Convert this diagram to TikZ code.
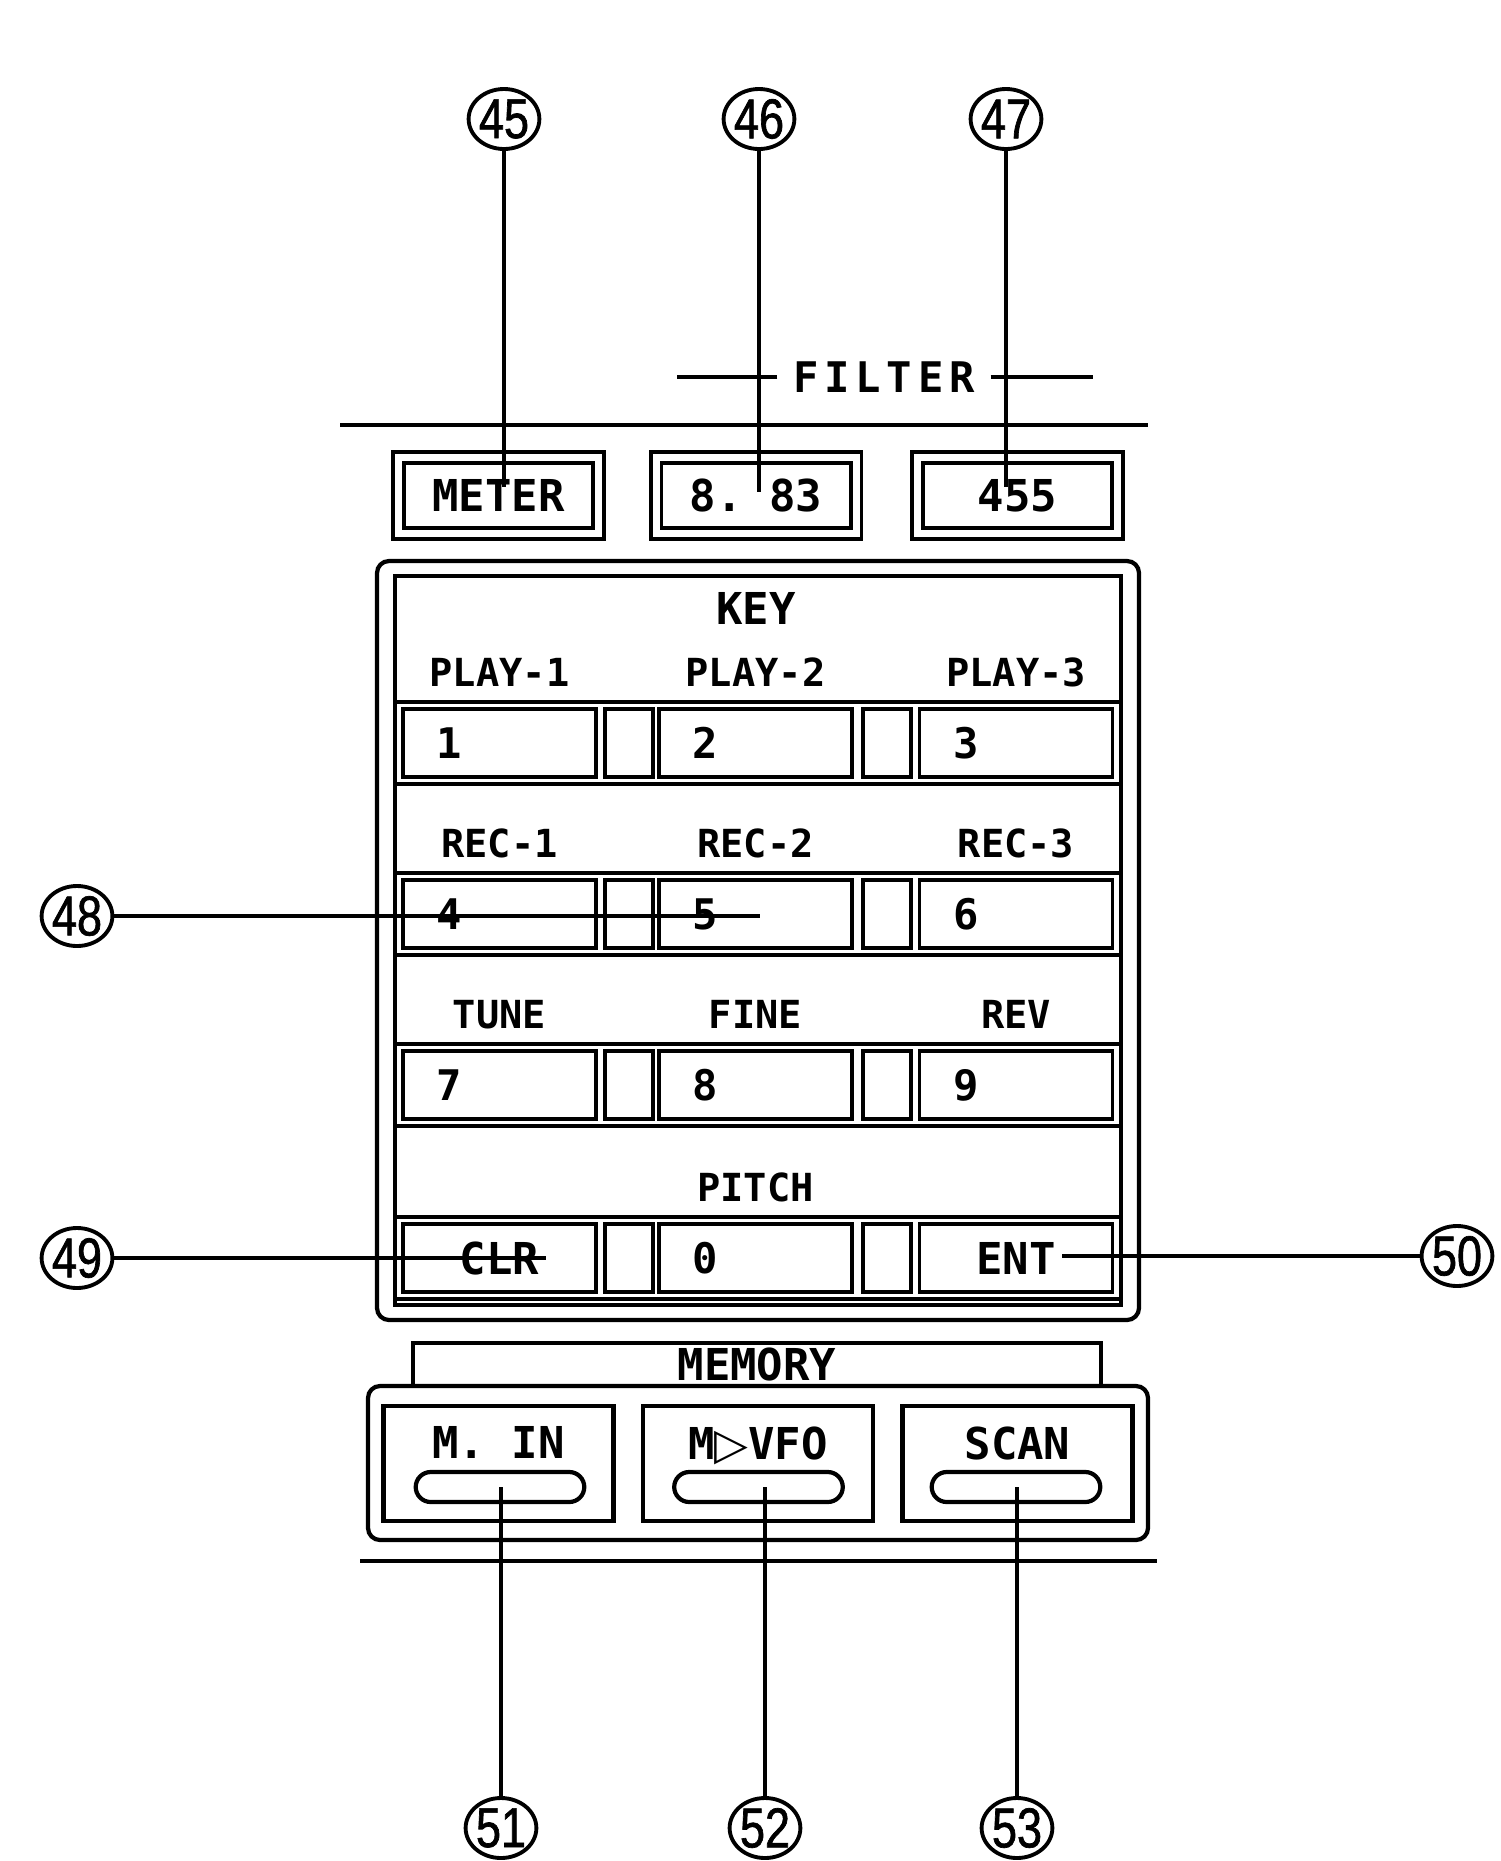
\documentclass[tikz,border=0pt]{standalone}
\usepackage{fontspec}
\setmonofont{DejaVu Sans Mono}
\newfontfamily\callfont[FakeStretch=0.8, FakeBold=1.2]{Liberation Sans}
\newfontfamily\symfont{DejaVu Sans}
\usepackage{tikz}
\usetikzlibrary{shapes.geometric, shapes.misc, positioning}
\tikzstyle{callout} = [ellipse, draw, line width=1.1pt,
minimum width=0.56cm,
minimum height=0.6cm,
inner sep=0pt,
font=\callfont\fontsize{16}{16}\selectfont]
\tikzstyle{dispbox} = [rectangle, draw, double,
double distance=0.07cm,
line width=1.1pt,
minimum width=2cm,
minimum height=0.76cm,
font=\ttfamily\bfseries\fontsize{12.5}{12.5}\selectfont]
\tikzstyle{panel} = [rectangle, draw, rounded corners=0.12cm,
line width=1.2pt,
minimum width=7.62cm,
minimum height=7.59cm]
\tikzstyle{strip} = [rectangle, draw, line width=1pt,
minimum width=7.26cm,
minimum height=0.82cm]
\tikzstyle{keybtn} = [rectangle, draw, line width=1pt,
minimum width=1.93cm,
minimum height=0.68cm]
\tikzstyle{gapbtn} = [rectangle, draw, line width=1pt,
minimum width=0.48cm,
minimum height=0.68cm]
\tikzstyle{keytxt} = [inner sep=0pt, font=\ttfamily\bfseries\fontsize{12}{12}\selectfont]
\tikzstyle{lbl} = [inner sep=0pt, font=\ttfamily\bfseries\fontsize{11}{11}\selectfont]
\tikzstyle{hdr} = [inner sep=0pt, font=\ttfamily\bfseries\fontsize{12.5}{12.5}\selectfont]
\tikzstyle{membox} = [rectangle, draw, rounded corners=0.12cm,
line width=1.2pt,
minimum width=7.8cm,
minimum height=1.54cm]
\tikzstyle{membtn} = [rectangle, draw, line width=1.3pt,
minimum width=2.3cm,
minimum height=1.15cm]
\tikzstyle{pill} = [rounded rectangle, draw, line width=1.2pt,
minimum width=1.92cm,
minimum height=0.3cm]
\tikzstyle{lead} = [line width=1pt]
\tikzstyle{rule} = [line width=1.3pt]

\begin{document}
\begin{tikzpicture}[y=-1cm]
\fill[white] (0,0) rectangle (15,18.61);
\useasboundingbox (0,0) rectangle (15,18.61);

\node (c45) [callout] at (5.04,1.19) {45};
\node (c46) [callout] at (7.59,1.19) {46};
\node (c47) [callout] at (10.06,1.19) {47};
\node (c48) [callout] at (0.77,9.16) {48};
\node (c49) [callout] at (0.77,12.58) {49};
\node (c50) [callout] at (14.57,12.56) {50};
\node (c51) [callout] at (5.01,18.28) {51};
\node (c52) [callout] at (7.65,18.28) {52};
\node (c53) [callout] at (10.17,18.28) {53};

% filter heading and top rule
\node (filter) [hdr, inner sep=0.15cm, font=\ttfamily\bfseries\fontsize{12}{12}\selectfont\addfontfeatures{LetterSpace=14}] at (8.84,3.77) {FILTER};
\draw [lead] (filter.west) -- ++(-1.0,0);
\draw [lead] (filter.east) -- ++(1.02,0);
\draw [rule] (3.40,4.25) -- (11.48,4.25);

\node (meter) [dispbox] at (4.985,4.955) {METER};
\node (freq) [dispbox] at (7.56,4.955) {8. 83};
\node (ifreq) [dispbox] at (10.175,4.955) {455};

% key panel
\node (keyframe) [panel] at (7.58,9.405) {};
\node (keyinner) [rectangle, draw, line width=1pt, minimum width=7.26cm, minimum height=7.29cm] at (7.58,9.405) {};
\node (keytitle) [hdr] at (7.56,6.08) {KEY};

\node (row1) [strip] at (7.58,7.43) {};
\node (k1) [keybtn] at (4.995,7.43) {};
\node (g1) [gapbtn] at (6.29,7.43) {};
\node (k2) [keybtn] at (7.555,7.43) {};
\node (g2) [gapbtn] at (8.87,7.43) {};
\node (k3) [keybtn] at (10.16,7.43) {};
\node (t1) [keytxt, right=0.35cm of k1.west] {1};
\node (t2) [keytxt, right=0.35cm of k2.west] {2};
\node (t3) [keytxt, right=0.35cm of k3.west] {3};
\node (play1) [lbl, above=0.2cm of k1] {PLAY-1};
\node (play2) [lbl, above=0.2cm of k2] {PLAY-2};
\node (play3) [lbl, above=0.2cm of k3] {PLAY-3};

\node (row2) [strip] at (7.58,9.14) {};
\node (k4) [keybtn] at (4.995,9.14) {};
\node (g3) [gapbtn] at (6.29,9.14) {};
\node (k5) [keybtn] at (7.555,9.14) {};
\node (g4) [gapbtn] at (8.87,9.14) {};
\node (k6) [keybtn] at (10.16,9.14) {};
\node (t4) [keytxt, right=0.35cm of k4.west] {4};
\node (t5) [keytxt, right=0.35cm of k5.west] {5};
\node (t6) [keytxt, right=0.35cm of k6.west] {6};
\node (rec1) [lbl, above=0.2cm of k4] {REC-1};
\node (rec2) [lbl, above=0.2cm of k5] {REC-2};
\node (rec3) [lbl, above=0.2cm of k6] {REC-3};

\node (row3) [strip] at (7.58,10.85) {};
\node (k7) [keybtn] at (4.995,10.85) {};
\node (g5) [gapbtn] at (6.29,10.85) {};
\node (k8) [keybtn] at (7.555,10.85) {};
\node (g6) [gapbtn] at (8.87,10.85) {};
\node (k9) [keybtn] at (10.16,10.85) {};
\node (t7) [keytxt, right=0.35cm of k7.west] {7};
\node (t8) [keytxt, right=0.35cm of k8.west] {8};
\node (t9) [keytxt, right=0.35cm of k9.west] {9};
\node (tune) [lbl, above=0.2cm of k7] {TUNE};
\node (fine) [lbl, above=0.2cm of k8] {FINE};
\node (rev) [lbl, above=0.2cm of k9] {REV};

\node (row4) [strip] at (7.58,12.58) {};
\node (kclr) [keybtn, font=\ttfamily\bfseries\fontsize{12.5}{12.5}\selectfont] at (4.995,12.58) {CLR};
\node (g7) [gapbtn] at (6.29,12.58) {};
\node (k0) [keybtn] at (7.555,12.58) {};
\node (g8) [gapbtn] at (8.87,12.58) {};
\node (kent) [keybtn, font=\ttfamily\bfseries\fontsize{12.5}{12.5}\selectfont] at (10.16,12.58) {ENT};
\node (t0) [keytxt, right=0.35cm of k0.west] {0};
\node (pitch) [lbl, above=0.2cm of k0] {PITCH};

% memory block
\node (memtitle) [rectangle, draw, line width=1.2pt, minimum width=6.88cm, minimum height=0.43cm, hdr] at (7.57,13.645) {MEMORY};
\node (memframe) [membox] at (7.58,14.63) {};
\node (min) [membtn] at (4.985,14.635) {};
\node (mvfo) [membtn] at (7.58,14.635) {};
\node (scan) [membtn] at (10.175,14.635) {};
\node (mintxt) [hdr, below=0.22cm of min.north] {M. IN};
\node (mvfotxt) [hdr, below=0.22cm of mvfo.north] {M{\symfont ▷}VFO};
\node (scantxt) [hdr, below=0.22cm of scan.north] {SCAN};
\node (pill1) [pill] at (5.00,14.87) {};
\node (pill2) [pill] at (7.585,14.87) {};
\node (pill3) [pill] at (10.16,14.87) {};
\draw [rule] (3.60,15.61) -- (11.57,15.61);

% leader lines
\coordinate (e45) at (5.04,4.87);
\coordinate (e46) at (7.59,4.92);
\coordinate (e47) at (10.06,4.87);
\coordinate (e48) at (7.60,9.16);
\coordinate (e49) at (5.46,12.58);
\coordinate (e50) at (10.62,12.56);
\draw [lead] (c45) -- (e45);
\draw [lead] (c46) -- (e46);
\draw [lead] (c47) -- (e47);
\draw [lead] (c48) -- (e48);
\draw [lead] (c49) -- (e49);
\draw [lead] (c50) -- (e50);
\draw [lead] (c51) -- (c51 |- pill1);
\draw [lead] (c52) -- (c52 |- pill2);
\draw [lead] (c53) -- (c53 |- pill3);

\end{tikzpicture}
\end{document}
